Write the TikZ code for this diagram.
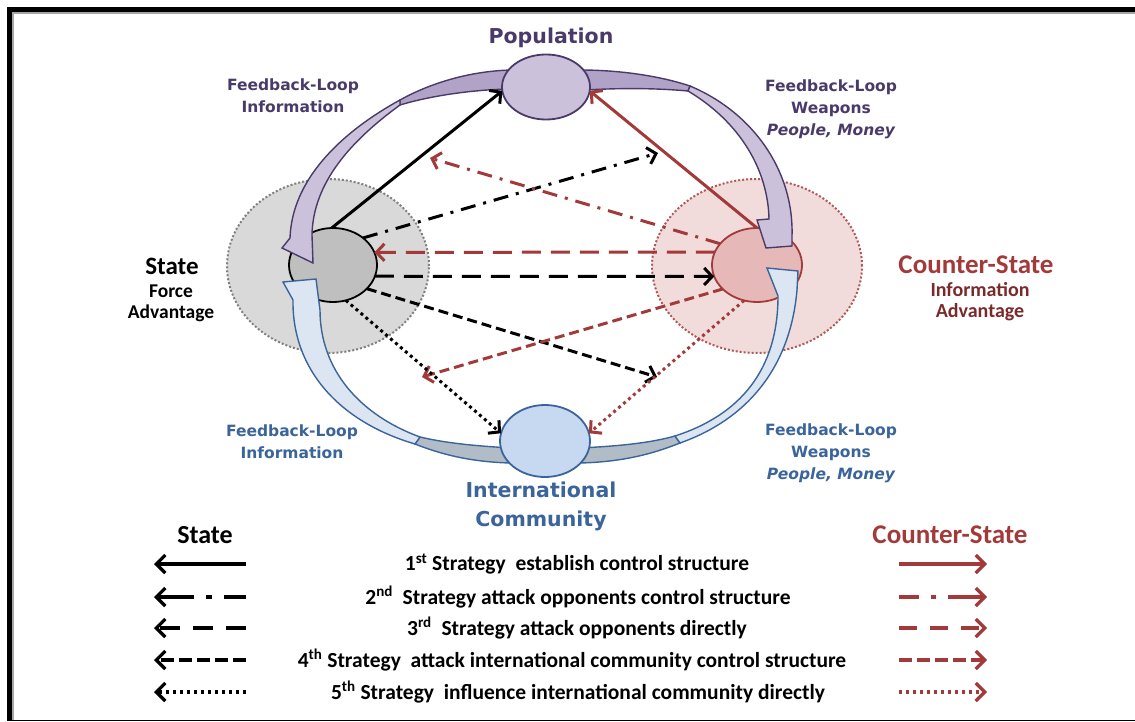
\documentclass[tikz,border=0pt]{standalone}
\usepackage{fontspec}
\setmainfont{Carlito}
\newfontfamily\dv{DejaVu Sans}
\usetikzlibrary{arrows.meta,shapes.geometric}
\definecolor{purp}{HTML}{4A3A6A}
\definecolor{purpfill}{HTML}{CCC1DA}
\definecolor{purpdark}{HTML}{B1A3C8}
\definecolor{blu}{HTML}{3A649A}
\definecolor{blufill}{HTML}{C6D9F1}
\definecolor{bluarrow}{HTML}{DCE6F2}
\definecolor{blugray}{HTML}{B2BCC6}
\definecolor{redd}{HTML}{A33A3A}
\definecolor{reddark}{HTML}{7B2A2A}
\definecolor{csfill}{HTML}{E6B9B8}
\definecolor{csouter}{HTML}{F2DCDB}
\definecolor{stfill}{HTML}{BFBFBF}
\definecolor{stouter}{HTML}{D9D9D9}
\tikzset{
  ell/.style={ellipse, inner sep=0pt, outer sep=0pt},
  arr/.style={line width=3pt, -{Straight Barb[length=8pt,width=17pt]}},
  lega/.style={line width=3.2pt, -{Straight Barb[length=9pt,width=18pt]}},
  dashdot/.style={dash pattern=on 15pt off 8pt on 3pt off 8pt},
  longdash/.style={dash pattern=on 19pt off 10pt},
  shortdash/.style={dash pattern=on 10pt off 5pt},
  dotline/.style={dash pattern=on 3pt off 3.5pt},
  pband/.style={draw=purp, line width=1.4pt},
  bband/.style={draw=blu, line width=1.4pt},
  lbl/.style={inner sep=0pt, font=\bfseries},
  fb/.style={inner sep=0pt, align=center, font=\dv\bfseries\fontsize{15.5}{22}\selectfont},
  legt/.style={inner sep=0pt, font=\bfseries\fontsize{21.5}{24}\selectfont},
}
\begin{document}
\begin{tikzpicture}[x=1pt,y=-1pt]
\useasboundingbox (0,0) rectangle (1135,722);
% frame
\draw[line width=2pt, gray!70] (13,12) -- (13,720);
\draw[line width=2pt, gray!70] (12,13) -- (1135,13);
\draw[line width=5pt] (9.5,7.5) -- (9.5,721);
\draw[line width=5pt] (7,9.5) -- (1135,9.5);
\draw[line width=1.5pt] (9,720.5) -- (1135,720.5);

% outer zones
\node[ell, fill=stouter, draw=gray, line width=2pt, dash pattern=on 2pt off 2pt, minimum width=202pt, minimum height=174pt] (stout) at (328,266) {};
\node[ell, fill=csouter, draw=redd!85, line width=2pt, dash pattern=on 2pt off 2pt, minimum width=210pt, minimum height=174pt] (csout) at (757,266) {};
% inner circles
\node[ell, fill=stfill, draw=black, line width=1.8pt, minimum width=88pt, minimum height=74pt] (st) at (333,265) {};
\node[ell, fill=csfill, draw=redd, line width=1.8pt, minimum width=90pt, minimum height=74pt] (cs) at (757,265) {};

% feedback bands (purple, top)
\filldraw[pband, fill=purpdark] (512,70) .. controls (465,71) and (425,86) .. (400,100) -- (400,105) .. controls (430,96) and (470,90) .. (508,89) -- cycle;
\filldraw[pband, fill=purpfill] (400,100) .. controls (340,133) and (292,180) .. (290,238) -- (282,248) -- (313,263) -- (312,235) .. controls (313,182) and (352,140) .. (400,105) -- cycle;
\filldraw[pband, fill=purpdark] (580,70) .. controls (620,70) and (660,76) .. (690,86) -- (688,91) .. controls (655,88) and (620,88) .. (585,90) -- cycle;
\filldraw[pband, fill=purpfill] (690,86) .. controls (752,112) and (794,170) .. (792,236) -- (792,246) -- (766,248) -- (757,220) -- (769,219) .. controls (768,170) and (740,122) .. (688,91) -- cycle;
% feedback bands (blue, bottom)
\filldraw[bband, fill=blugray] (510,448) .. controls (480,446) and (450,444) .. (420,437) -- (415,444) .. controls (445,456) and (475,462) .. (510,463) -- cycle;
\filldraw[bband, fill=bluarrow] (420,437) .. controls (360,415) and (320,370) .. (320,310) -- (316,279) -- (283,282) -- (293,300) .. controls (292,370) and (340,422) .. (415,444) -- cycle;
\filldraw[bband, fill=blugray] (580,448) .. controls (620,446) and (650,443) .. (675,436) -- (680,443) .. controls (650,455) and (620,462) .. (580,463) -- cycle;
\filldraw[bband, fill=bluarrow] (675,436) .. controls (740,415) and (778,370) .. (778,296) -- (767,268) -- (798,271) -- (797,290) .. controls (790,370) and (745,420) .. (680,443) -- cycle;

% population and international community
\node[ell, fill=purpfill, draw=purp, line width=1.8pt, minimum width=88pt, minimum height=65pt] (pop) at (546,87) {};
\node[ell, fill=blufill, draw=blu, line width=1.8pt, minimum width=90pt, minimum height=72pt] (ic) at (545,441) {};

% free ends
\coordinate (e2s) at (658,153);
\coordinate (e2c) at (430,158);
\coordinate (e4s) at (657,377);
\coordinate (e4c) at (422,377);

% connectors
\draw[arr] (st.92) -- (pop.185);
\draw[arr, redd] (cs.90) -- (pop.-5);
\draw[arr, dashdot] (st.42) -- (e2s);
\draw[arr, dashdot, redd] (cs.150) -- (e2c);
\draw[arr, longdash, redd] (cs.163) -- (st.17);
\draw[arr, longdash] (st.-15) -- (cs.195);
\draw[arr, shortdash] (st.-35) -- (e4s);
\draw[arr, shortdash, redd] (cs.-145) -- (e4c);
\draw[arr, dotline] (st.-70) -- (ic.170);
\draw[arr, dotline, redd] (cs.-110) -- (ic.10);

% labels
\node[lbl, text=purp, font=\dv\bfseries\fontsize{20.5}{24}\selectfont] (tpop) at (551,38) {Population};
\node[fb, text=purp] (tfb1) at (293,96) {Feedback-Loop\\Information};
\node[fb, text=purp] (tfb2) at (831,109) {Feedback-Loop\\Weapons\\\itshape People, Money};
\node[fb, text=blu] (tfb3) at (292,442) {Feedback-Loop\\Information};
\node[fb, text=blu] (tfb4) at (831,453) {Feedback-Loop\\Weapons\\\itshape People, Money};
\node[lbl, font=\bfseries\fontsize{25}{28}\selectfont] (tst) at (172,266) {State};
\node[lbl, font=\bfseries\fontsize{19.5}{21}\selectfont, align=center] (tst2) at (171,303) {Force\\Advantage};
\node[lbl, text=redd, font=\bfseries\fontsize{27}{28}\selectfont] (tcs) at (976,265) {Counter-State};
\node[lbl, text=reddark, font=\bfseries\fontsize{20}{21}\selectfont, align=center] (tcs2) at (980,302) {Information\\Advantage};
\node[lbl, text=blu, font=\dv\bfseries\fontsize{20.5}{29}\selectfont, align=center] (tic) at (541,506) {International\\Community};

% legend
\node[lbl, font=\bfseries\fontsize{26}{28}\selectfont] (lst) at (205,535) {State};
\node[lbl, text=redd, font=\bfseries\fontsize{27}{28}\selectfont] (lcs) at (950,535) {Counter-State};
\node[legt] (r1) at (577,564) {1\textsuperscript{st} Strategy\ \ establish control structure};
\node[legt] (r2) at (578,597) {2\textsuperscript{nd}\ \ Strategy attack opponents control structure};
\node[legt] (r3) at (577,628) {3\textsuperscript{rd}\ \ Strategy attack opponents directly};
\node[legt] (r4) at (572,660) {4\textsuperscript{th} Strategy\ \ attack international community control structure};
\node[legt] (r5) at (578,692) {5\textsuperscript{th} Strategy\ \ influence international community directly};

\foreach \y/\n in {564/1,597/2,628/3,660/4,692/5}{
  \coordinate (la\n) at (246,\y);
  \coordinate (lb\n) at (154,\y);
  \coordinate (ra\n) at (899,\y);
  \coordinate (rb\n) at (987,\y);
}
\draw[lega] (la1) -- (lb1);
\draw[lega, dash pattern=on 22pt off 12pt on 6pt off 12pt on 40pt] (la2) -- (lb2);
\draw[lega, dash pattern=on 20pt off 13pt] (la3) -- (lb3);
\draw[lega, dash pattern=on 13pt off 5pt] (la4) -- (lb4);
\draw[lega, dash pattern=on 3pt off 4pt] (la5) -- (lb5);
\draw[lega, redd] (ra1) -- (rb1);
\draw[lega, redd, dash pattern=on 20pt off 12pt on 5pt off 12pt on 40pt] (ra2) -- (rb2);
\draw[lega, redd, dash pattern=on 18pt off 13pt] (ra3) -- (rb3);
\draw[lega, redd, dash pattern=on 13pt off 5pt] (ra4) -- (rb4);
\draw[lega, redd, dash pattern=on 3pt off 4pt] (ra5) -- (rb5);
\end{tikzpicture}
\end{document}
